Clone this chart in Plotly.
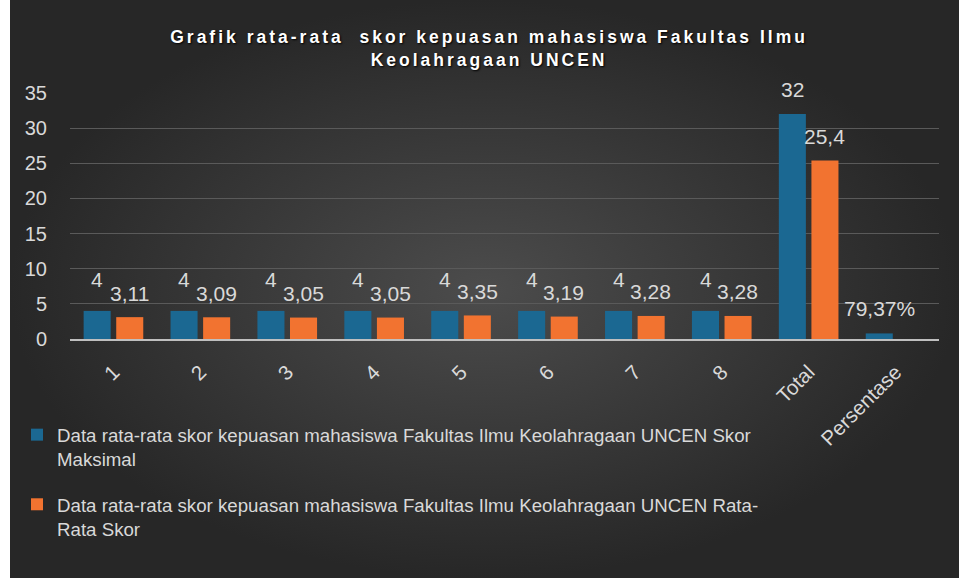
import plotly.graph_objects as go

categories = ["1", "2", "3", "4", "5", "6", "7", "8", "Total", "Persentase"]
skor_maksimal = [4, 4, 4, 4, 4, 4, 4, 4, 32, 0.7937]
rata_rata_skor = [3.11, 3.09, 3.05, 3.05, 3.35, 3.19, 3.28, 3.28, 25.4, None]
name_max = "Data rata-rata skor kepuasan mahasiswa Fakultas Ilmu Keolahragaan UNCEN Skor<br>Maksimal"
name_avg = "Data rata-rata skor kepuasan mahasiswa Fakultas Ilmu Keolahragaan UNCEN Rata-<br>Rata Skor"
title_lines = ["Grafik rata-rata  skor kepuasan mahasiswa Fakultas Ilmu", "Keolahragaan UNCEN"]

W, H = 959, 578
PL, PR, PT, PB = 70, 939, 93, 339

BLUE = "#1b6892"
ORANGE = "#f27330"
TXT = "#d9d9d9"
LABEL_FONT = "Liberation Sans, Arial"


def fmt(v, cat):
    if cat == "Persentase":
        return f"{v*100:.2f}%".replace(".", ",")
    return f"{v:g}".replace(".", ",")


fig = go.Figure()

# background with radial gradient on a full-figure hidden subplot
fig.add_trace(go.Scatter(
    x=[10 / W, 1, 1, 10 / W, 10 / W], y=[0, 0, 1, 1, 0],
    mode="lines", line=dict(width=0), fill="toself",
    fillgradient=dict(type="radial", colorscale=[[0, "#4c4c4c"], [1, "#272727"]]),
    hoverinfo="skip", showlegend=False, xaxis="x", yaxis="y"))

fig.add_trace(go.Bar(x=categories, y=skor_maksimal, name=name_max,
                     marker=dict(color=BLUE, line=dict(width=0)),
                     xaxis="x2", yaxis="y2", legendgroup="a"))
fig.add_trace(go.Bar(x=categories, y=rata_rata_skor, name=name_avg,
                     marker=dict(color=ORANGE, line=dict(width=0)),
                     xaxis="x2", yaxis="y2", legendgroup="b"))

annotations = []
for i, cat in enumerate(categories):
    v = skor_maksimal[i]
    if v is not None:
        small = v < 10 and cat != "Persentase"
        annotations.append(dict(
            x=i, y=v, xref="x2", yref="y2", text=fmt(v, cat), showarrow=False,
            xshift=-16, yshift=31 if small else 25,
            font=dict(family=LABEL_FONT, size=21, color=TXT)))
    v = rata_rata_skor[i]
    if v is not None:
        annotations.append(dict(
            x=i, y=v, xref="x2", yref="y2", text=fmt(v, cat), showarrow=False,
            xshift=16, yshift=24,
            font=dict(family=LABEL_FONT, size=21, color=TXT)))

title_html = "<br>".join(
    f'<span style="letter-spacing:3px">{t}</span>' for t in title_lines)

fig.update_layout(
    width=W, height=H,
    margin=dict(l=0, r=0, t=0, b=0, autoexpand=False),
    paper_bgcolor="white",
    plot_bgcolor="rgba(0,0,0,0)",
    barmode="group", bargap=0.25, bargroupgap=0.17,
    xaxis=dict(domain=[0, 1], range=[0, 1], visible=False, fixedrange=True,
               automargin=False),
    yaxis=dict(domain=[0, 1], range=[0, 1], visible=False, fixedrange=True,
               automargin=False),
    xaxis2=dict(domain=[PL / W, PR / W], anchor="y2", type="category",
                tickangle=-45, showgrid=False, showline=True, automargin=False,
                linecolor="#bfbfbf", linewidth=2, ticks="",
                ticklabelstandoff=11,
                tickfont=dict(family=LABEL_FONT, size=20.5, color=TXT)),
    yaxis2=dict(domain=[(H - PB) / H, (H - PT) / H], anchor="x2", automargin=False,
                range=[0, 35], dtick=5, showgrid=True, gridcolor="#5a5a5a",
                gridwidth=1, zeroline=False, showline=False, ticks="",
                ticklabelstandoff=22,
                tickfont=dict(family=LABEL_FONT, size=20, color=TXT)),
    title=dict(text=title_html, x=0.51, xanchor="center", xref="paper",
               y=1 - 43 / H, yanchor="top", automargin=False,
               font=dict(family="Liberation Sans, Arial", size=17.5, color="white",
                         weight="bold", shadow="1px 1px 2px #000")),
    legend=dict(x=17 / W, y=1 - 416 / H, xanchor="left", yanchor="top",
                bgcolor="rgba(0,0,0,0)", tracegroupgap=18, valign="top",
                font=dict(family=LABEL_FONT, size=18.7, color=TXT),
                itemwidth=30),
    annotations=annotations,
    showlegend=True,
)

fig.write_html("out.html",
               config={"displayModeBar": False},
               post_script="document.body.style.margin='0px';document.body.style.overflow='hidden';")
